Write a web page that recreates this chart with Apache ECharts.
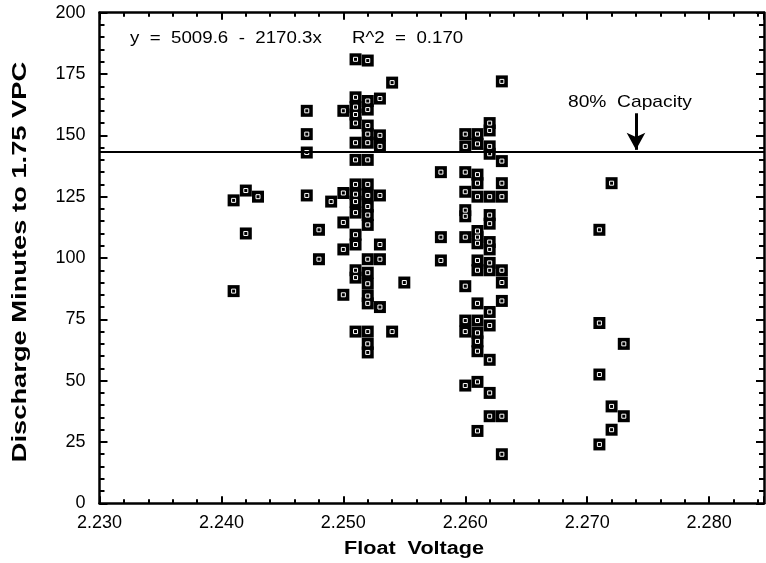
<!DOCTYPE html>
<html>
<head>
<meta charset="utf-8">
<script src="https://cdn.jsdelivr.net/npm/echarts@6/dist/echarts.min.js"></script>
<style>
html,body{margin:0;padding:0;background:#fff;}
#chart{width:766px;height:563px;}
</style>
</head>
<body>
<div id="chart"></div>
<script>
// Float voltage (V) per point
const floatVoltage = [
  2.241, 2.241,
  2.242, 2.242,
  2.243,
  2.247, 2.247, 2.247, 2.247,
  2.248, 2.248,
  2.249,
  2.250, 2.250, 2.250, 2.250, 2.250,
  2.251, 2.251, 2.251, 2.251, 2.251, 2.251, 2.251, 2.251, 2.251, 2.251, 2.251, 2.251, 2.251, 2.251, 2.251, 2.251,
  2.252, 2.252, 2.252, 2.252, 2.252, 2.252, 2.252, 2.252, 2.252, 2.252, 2.252, 2.252, 2.252, 2.252, 2.252, 2.252, 2.252, 2.252, 2.252, 2.252,
  2.253, 2.253, 2.253, 2.253, 2.253, 2.253, 2.253,
  2.254, 2.254,
  2.255,
  2.258, 2.258, 2.258,
  2.260, 2.260, 2.260, 2.260, 2.260, 2.260, 2.260, 2.260, 2.260, 2.260, 2.260,
  2.261, 2.261, 2.261, 2.261, 2.261, 2.261, 2.261, 2.261, 2.261, 2.261, 2.261, 2.261, 2.261, 2.261, 2.261, 2.261, 2.261,
  2.262, 2.262, 2.262, 2.262, 2.262, 2.262, 2.262, 2.262, 2.262, 2.262, 2.262, 2.262, 2.262, 2.262, 2.262, 2.262,
  2.263, 2.263, 2.263, 2.263, 2.263, 2.263, 2.263, 2.263, 2.263,
  2.271, 2.271, 2.271, 2.271,
  2.272, 2.272, 2.272,
  2.273, 2.273
];
// Discharge minutes to 1.75 VPC per point
const dischargeMinutes = [
  123.5, 86.5,
  127.5, 110,
  125,
  160, 150.5, 143, 125.5,
  111.5, 99.5,
  123,
  160, 126.5, 114.5, 103.5, 85,
  181, 165.5, 161.5, 158.5, 155, 147, 140, 130, 126, 123, 118.5, 109.5, 105.5, 95, 92, 70,
  180.5, 164, 160.5, 154, 150.5, 147, 140, 130, 125.5, 121, 117.5, 113.5, 99.5, 94, 89.5, 84.5, 81.5, 70, 65, 61.5,
  165, 150, 145.5, 125.5, 105.5, 99.5, 80,
  171.5, 70,
  90,
  135, 108.5, 99,
  150.5, 145.5, 135, 127, 119.5, 117, 108.5, 88.5, 74.5, 70, 48,
  150.5, 146.5, 134, 130.5, 125, 111, 108.5, 106, 99, 95, 81.5, 74.5, 69.5, 66, 62, 49.5, 29.5,
  155, 152, 145.5, 142.5, 125, 117.5, 114, 106.5, 103.5, 98, 95, 78, 72.5, 58.5, 45, 35.5,
  172, 139.5, 130.5, 125, 95, 90, 82.5, 35.5, 20,
  111.5, 73.5, 52.5, 24,
  130.5, 39.5, 30,
  65, 35.5
];
const capacityLine = 143.3;        // 80% capacity threshold (minutes)
const arrowVoltage = 2.274;
const arrowFrom = 159;
const xMin = 2.230, xMax = 2.2845, xStep = 0.010;
const yMin = 0, yMax = 200, yStep = 25;
const equationText = 'y  =  5009.6  -  2170.3x';
const r2Text = 'R^2  =  0.170';
const capacityText = '80%  Capacity';
const yTitle = 'Discharge Minutes to 1.75 VPC';
const xTitle = 'Float  Voltage';

const points = floatVoltage.map((v, i) => [v, dischargeMinutes[i]]);
const FONT = '"Liberation Sans", Arial, Helvetica, sans-serif';

function xAx(pos, showLabels) {
  return {
    type: 'value', position: pos, min: xMin, max: xMax, interval: xStep,
    axisLine: {show: true, onZero: false, lineStyle: {color: '#000', width: 2.5}},
    axisTick: {show: true, inside: true, length: 7, lineStyle: {color: '#000', width: 2}},
    minorTick: {show: true, splitNumber: 5, length: 4, lineStyle: {color: '#000', width: 2}},
    splitLine: {show: false},
    axisLabel: {show: showLabels, showMaxLabel: false, color: '#000', fontSize: 18, fontFamily: FONT, margin: 11,
      formatter: v => v.toFixed(3)}
  };
}
function yAx(pos, showLabels) {
  return {
    type: 'value', position: pos, min: yMin, max: yMax, interval: yStep,
    axisLine: {show: true, onZero: false, lineStyle: {color: '#000', width: 2.5}},
    axisTick: {show: true, inside: true, length: 8, lineStyle: {color: '#000', width: 2}},
    minorTick: {show: true, splitNumber: 5, length: 5, lineStyle: {color: '#000', width: 2}},
    splitLine: {show: false},
    axisLabel: {show: showLabels, color: '#000', fontSize: 18, fontFamily: FONT, margin: 14}
  };
}

function label(text, x, y, font, sx, extra) {
  return Object.assign({
    type: 'text', x: x, y: y, scaleX: sx,
    style: {text: text, fill: '#000', font: font, x: 0, y: 0, align: 'left', verticalAlign: 'middle'}
  }, extra || {});
}

const chart = echarts.init(document.getElementById('chart'), null, {renderer: 'canvas'});
chart.setOption({
  animation: false,
  backgroundColor: '#fff',
  grid: {left: 99.5, right: 2, top: 12.7, bottom: 59.7, containLabel: false},
  xAxis: [xAx('bottom', true), xAx('top', false)],
  yAxis: [yAx('left', true), yAx('right', false)],
  graphic: [
    label(equationText, 130, 38, '17px ' + FONT, 1.1),
    label(r2Text, 352, 38, '17px ' + FONT, 1.1),
    label(capacityText, 568, 102, '17px ' + FONT, 1.13),
    {
      type: 'text', x: 414, y: 549, scaleX: 1.2,
      style: {text: xTitle, fill: '#000', font: 'bold 18px ' + FONT, x: 0, y: 0, align: 'center', verticalAlign: 'middle'}
    },
    {
      type: 'text', x: 20, y: 262, rotation: Math.PI / 2, scaleX: 1.3,
      style: {text: yTitle, fill: '#000', font: 'bold 21px ' + FONT, x: 0, y: 0, align: 'center', verticalAlign: 'middle'}
    }
  ],
  series: [
    {
      type: 'scatter', xAxisIndex: 0, yAxisIndex: 0, data: points,
      symbol: 'rect', symbolSize: 12,
      itemStyle: {color: '#000', opacity: 1},
      z: 3,
      markLine: {
        silent: true, animation: false,
        symbol: ['none', 'none'],
        label: {show: false},
        data: [
          {yAxis: capacityLine, lineStyle: {color: '#000', width: 2, type: 'solid'}},
          [
            {coord: [arrowVoltage, arrowFrom], symbol: 'none'},
            {coord: [arrowVoltage, capacityLine + 0.8], symbol: 'arrow', symbolSize: [14, 17]}
          ]
        ],
        lineStyle: {color: '#000', width: 3, type: 'solid'}
      }
    },
    {
      type: 'scatter', xAxisIndex: 0, yAxisIndex: 0, data: points,
      symbol: 'rect', symbolSize: 4,
      itemStyle: {color: '#000', borderColor: '#fff', borderWidth: 1, opacity: 1},
      z: 4, silent: true
    }
  ]
});
</script>
</body>
</html>
